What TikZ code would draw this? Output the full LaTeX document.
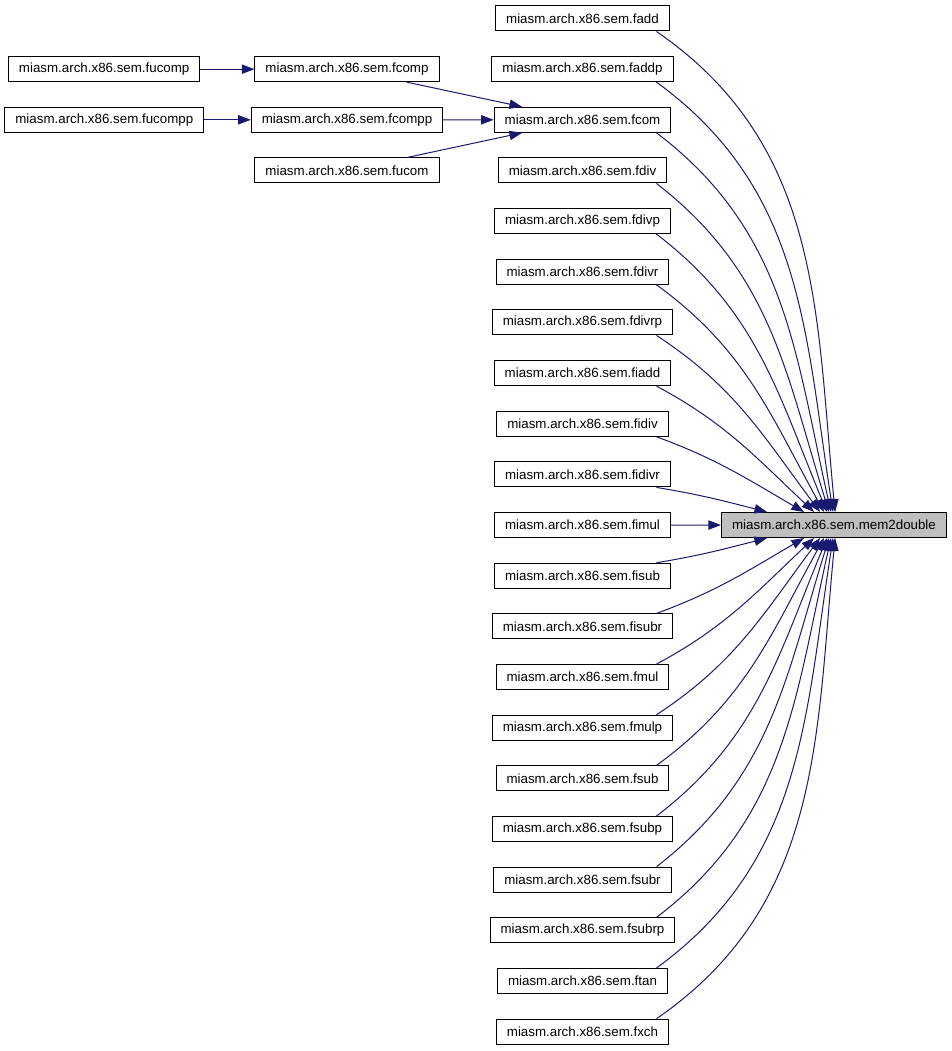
\documentclass[tikz,border=0pt]{standalone}
\usepackage{fontspec}
\setmainfont{Liberation Sans}
\usetikzlibrary{arrows.meta, calc}
\definecolor{edgeblue}{RGB}{25,25,112}
\definecolor{nodegray}{RGB}{191,191,191}
\tikzstyle{fn} = [draw=black, line width=0.75pt, minimum height=18.75pt, inner xsep=7.9pt, inner ysep=0pt, font=\fontsize{10}{12}\selectfont]
\tikzstyle{arrow} = [draw=edgeblue, line width=0.75pt, -{Triangle[length=9.5pt,width=7pt]}]

\begin{document}
\begin{tikzpicture}[x=0.75pt,y=0.75pt]
  \useasboundingbox (0,0) rectangle (951,1051);
  \node[fn, fill=nodegray] (mem) at (834,526) {miasm.arch.x86.sem.mem2double};
  % callers of fcom
  \node[fn] (fcomp) at (347,981.8) {miasm.arch.x86.sem.fcomp};
  \node[fn] (fcompp) at (347,931.2) {miasm.arch.x86.sem.fcompp};
  \node[fn] (fucom) at (347,880.5) {miasm.arch.x86.sem.fucom};
  \node[fn] (fucomp) at (104.2,981.8) {miasm.arch.x86.sem.fucomp};
  \node[fn] (fucompp) at (104.3,931.2) {miasm.arch.x86.sem.fucompp};
  \draw[arrow] (fucomp) -- (fcomp);
  \draw[arrow] (fucompp) -- (fcompp);
  % direct callers
  \foreach \name [count=\i from 0] in {fadd,faddp,fcom,fdiv,fdivp,fdivr,fdivrp,fiadd,fidiv,fidivr,fimul,fisub,fisubr,fmul,fmulp,fsub,fsubp,fsubr,fsubrp,ftan,fxch}
    \node[fn] (\name) at (582.5,{1032.5-50.66*\i}) {miasm.arch.x86.sem.\name};
  \draw[arrow] (fcompp) -- (fcom);
  \draw[arrow] ($(fcomp.south)+(60,0)$) -- ($(fcom.north west)+(28.4,0)$);
  \draw[arrow] ($(fucom.north)+(60,0)$) -- ($(fcom.south west)+(28.4,0)$);
  \foreach \name [count=\i from 0] in {fadd,faddp,fcom,fdiv,fdivp,fdivr,fdivrp,fiadd,fidiv,fidivr,fimul,fisub,fisubr,fmul,fmulp,fsub,fsubp,fsubr,fsubrp,ftan,fxch} {
    \pgfmathtruncatemacro\dd{abs(10-\i)}
    \ifnum\dd=0
      \draw[arrow] (\name) -- (mem);
    \else
      \ifnum\i<10 \def\sa{south}\def\ta{north west}\def\sg{1}\else \def\sa{north}\def\ta{south west}\def\sg{-1}\fi
      \pgfmathsetmacro\tipx{{0,46,83,93,99,103,106,108,110,112,114}[\dd]}
      \pgfmathsetmacro\ys{1032.5-50.66*\i-12.5*\sg}
      \pgfmathsetmacro\ye{526+12.5*\sg}
      \pgfmathsetmacro\chord{atan2(\ye-\ys,722.3+\tipx-656.5)}
      \pgfmathsetmacro\aout{\chord+\sg*3.5*\dd}
      \pgfmathsetmacro\ain{\chord-\sg*1.5*\dd+180}
      \draw[arrow] ($(\name.\sa)+(74,0)$) to[out=\aout, in=\ain] ($(mem.\ta)+(\tipx,0)$);
    \fi
  }
\end{tikzpicture}
\end{document}
